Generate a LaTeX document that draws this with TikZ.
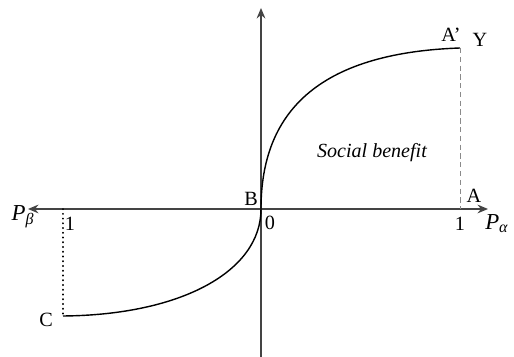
\documentclass[tikz,border=0pt]{standalone}
\usepackage{fontspec}
\setmainfont{Liberation Serif}
\usepackage{tikz}
\usetikzlibrary{arrows.meta, positioning, calc}
\definecolor{axisgrey}{HTML}{444444}
\definecolor{dashgrey}{HTML}{8A8A8A}

\begin{document}
\begin{tikzpicture}
  \tikzstyle{axis}=[draw=axisgrey, line width=0.7pt,
    -{Stealth[length=6pt, width=5pt, inset=2pt]}]
  \tikzstyle{lbl}=[font=\fontsize{11.5}{13}\selectfont, inner sep=1pt]
  \useasboundingbox (-5.22,-2.96) rectangle (5.06,4.18);

  % axes
  \coordinate (O) at (0,0);
  \coordinate (xr) at (4.54,0);
  \coordinate (xl) at (-4.66,0);
  \coordinate (yt) at (0,4.02);
  \coordinate (yb) at (0,-2.96);
  \draw[axis] (O) -- (xr);
  \draw[axis] (O) -- (xl);
  \draw[axis] (yb) -- (yt);

  % curve end points
  \coordinate (Ap) at (3.98,3.22);
  \coordinate (A)  at (3.98,0);
  \coordinate (Cp) at (-3.96,-2.14);
  \coordinate (Cb) at (-3.96,0);

  \draw[line width=0.8pt] (O) .. controls (0,1.9) and (1.1,3.12) .. (Ap);
  \draw[line width=0.8pt] (O) .. controls (0,-1.25) and (-1.6,-2.12) .. (Cp);

  \draw[dashgrey, densely dashed, line width=0.5pt] (Ap) -- (A);
  \draw[line width=1.1pt, line cap=round, dash pattern=on 0.1pt off 2.6pt] (Cb) -- (Cp);

  % labels
  \node[lbl, anchor=east] (lB) at (-0.02,0.2) {B};
  \node[lbl] (l0) at (0.18,-0.27) {0};
  \node[lbl] (l1r) at (3.98,-0.3) {1};
  \node[lbl] (l1l) at (-3.82,-0.3) {1};
  \node[lbl] (lA) at (4.26,0.26) {A};
  \node[lbl] (lAp) at (3.8,3.48) {A’};
  \node[lbl] (lY) at (4.38,3.38) {Y};
  \node[lbl] (lC) at (-4.3,-2.22) {C};
  \node[lbl, font=\fontsize{11.4}{13}\selectfont\itshape] (lS) at (2.22,1.12) {Social benefit};
  \node[lbl, font=\fontsize{13}{15}\selectfont] (lPb) at (-4.76,-0.16) {\textit{P}\textsubscript{\textit{β}}};
  \node[lbl, font=\fontsize{13}{15}\selectfont] (lPa) at (4.72,-0.3) {\textit{P}\textsubscript{\textit{α}}};
\end{tikzpicture}
\end{document}
